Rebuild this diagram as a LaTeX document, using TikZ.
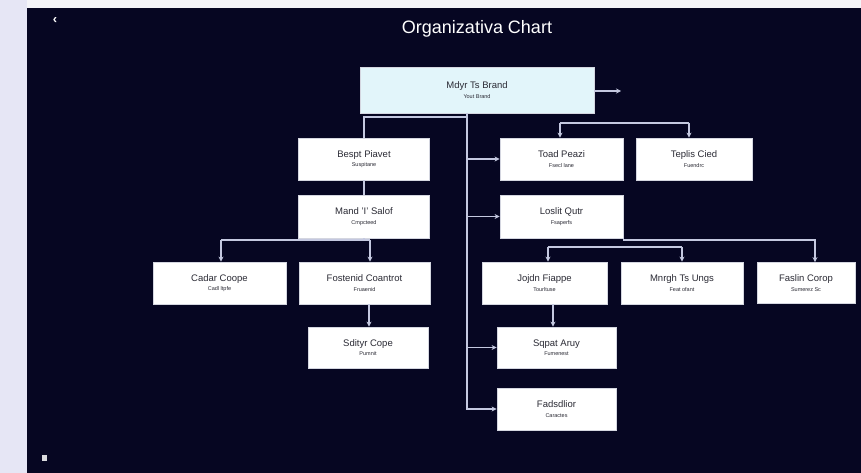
\documentclass[tikz,border=0pt]{standalone}
\usepackage{fontspec}
\setmainfont{Liberation Sans}
\usetikzlibrary{arrows.meta,calc}

\definecolor{panel}{HTML}{060622}
\definecolor{sidebar}{HTML}{E6E6F5}
\definecolor{topbar}{HTML}{F4F4F8}
\definecolor{wire}{HTML}{C4C8E0}
\definecolor{boxline}{HTML}{D4D6E0}
\definecolor{rootfill}{HTML}{E2F5FA}
\definecolor{ink}{HTML}{2A2A34}

\tikzset{
  unitbox/.style={draw=boxline, line width=0.8pt, fill=white, inner sep=0pt,
    align=center, text=ink, font=\fontsize{9.5}{10.5}\selectfont},
  wirearrow/.style={draw=wire, line width=1.4pt,
    -{Stealth[length=5pt,width=5pt]}},
  wireplain/.style={draw=wire, line width=1.4pt},
}

% box with a name line and a small role line
\newcommand{\orgbox}[7][]{%
  \node[unitbox, #1, minimum width=#5pt, minimum height=#6pt] (#2) at (#3,#4)
    {#7};}
\newcommand{\rolelabel}[2]{#1\\[-1pt]{\fontsize{5.5}{6}\selectfont #2}}

\begin{document}
\begin{tikzpicture}[x=1pt,y=-1pt]
  \useasboundingbox (0,0) rectangle (861,473);
  % frame
  \fill[sidebar] (0,0) rectangle (861,473);
  \fill[topbar] (27,0) rectangle (861,8);
  \fill[panel] (27,8) rectangle (861,473);

  % header
  \node[text=white, font=\fontsize{18}{20}\selectfont] (title) at (477,29) {Organizativa Chart};
  \node[text=white, font=\fontsize{13}{13}\selectfont\bfseries] (back) at (55,21) {‹};
  \node[fill=white!85!panel, minimum width=5pt, minimum height=6pt, inner sep=0pt] (trash) at (44,458) {};

  % boxes
  \orgbox[fill=rootfill]{root}{477}{90}{234}{46}{\rolelabel{Mdyr Ts Brand}{Yout Brand}}

  \orgbox{bespt}{364}{159}{131}{42}{\rolelabel{Bespt Piavet}{Suspitane}}
  \orgbox{mand}{364}{216.5}{131}{43}{\rolelabel{Mand 'I' Salof}{Cmpcteed}}
  \orgbox{toad}{561.5}{159}{123}{42}{\rolelabel{Toad Peazi}{Fsecl lane}}
  \orgbox{teplis}{694}{159}{116}{42}{\rolelabel{Teplis Cied}{Fuendrc}}
  \orgbox{loslit}{561.5}{216.5}{123}{43}{\rolelabel{Loslit Qutr}{Fsaperfs}}

  \orgbox{cadar}{219.5}{283}{133}{42}{\rolelabel{Cadar Coope}{Cadl ltpfe}}
  \orgbox{foste}{364.5}{283}{131}{42}{\rolelabel{Fostenid Coantrot}{Fruaenid}}
  \orgbox{sdityr}{368}{347.5}{120}{41}{\rolelabel{Sdityr Cope}{Pumnit}}

  \orgbox{jojdn}{544.5}{283}{125}{42}{\rolelabel{Jojdn Fiappe}{Tourltuse}}
  \orgbox{mnrgh}{682}{283}{122}{42}{\rolelabel{Mnrgh Ts Ungs}{Feat ofant}}
  \orgbox{faslin}{806}{283}{98}{41}{\rolelabel{Faslin Corop}{Sumerez Sc}}
  \orgbox{sqpat}{556.5}{347.5}{119}{41}{\rolelabel{Sqpat Aruy}{Fumenest}}
  \orgbox{fads}{556.5}{409}{119}{42}{\rolelabel{Fadsdlior}{Caractes}}

  % trunk and its junctions
  \coordinate (trunktop) at (467,113);
  \coordinate (trunkleft) at (467,117);
  \coordinate (out) at (621,91);
  \coordinate (rbarl) at (560,123);
  \coordinate (rbarr) at (689,123);
  \coordinate (lbar) at (364,240);
  \coordinate (lbarl) at (221,240);
  \coordinate (lbarr) at (370,240);
  \coordinate (farbar) at (815,240);
  \coordinate (midbarl) at (548,247);
  \coordinate (midbarr) at (682,247);
  \coordinate (jdrop) at (553,304);

  % connectors
  \draw[wirearrow] (root.east |- out) -- (out);
  \draw[wirearrow] (trunktop) |- (fads.west);
  \draw[wireplain] (trunkleft) -| (bespt.north);
  \draw[wireplain] (bespt.south) -- (mand.north);
  \draw[wirearrow] (trunktop |- toad.west) -- (toad.west);
  \draw[wirearrow] (trunktop |- loslit.west) -- (loslit.west);
  \draw[wirearrow] (trunktop |- sqpat.west) -- (sqpat.west);

  \draw[wireplain] (rbarl) -- (rbarr);
  \draw[wirearrow] (rbarl) -- (rbarl |- toad.north);
  \draw[wirearrow] (rbarr) -- (rbarr |- teplis.north);

  \draw[wireplain] (mand.south) -- (lbar);
  \draw[wireplain] (lbarl) -- (lbarr);
  \draw[wirearrow] (lbarl) -- (lbarl |- cadar.north);
  \draw[wirearrow] (lbarr) -- (lbarr |- foste.north);
  \draw[wirearrow] ($(foste.south -| sdityr.north)+(1,0)$) -- ($(sdityr.north)+(1,0)$);

  \draw[wirearrow] (loslit.south east) |- (farbar) -- (farbar |- faslin.north);
  \draw[wireplain] (midbarl) -- (midbarr);
  \draw[wirearrow] (midbarl) -- (midbarl |- jojdn.north);
  \draw[wirearrow] (midbarr) -- (midbarr |- mnrgh.north);
  \draw[wirearrow] (jdrop) -- (jdrop |- sqpat.north);
\end{tikzpicture}
\end{document}
